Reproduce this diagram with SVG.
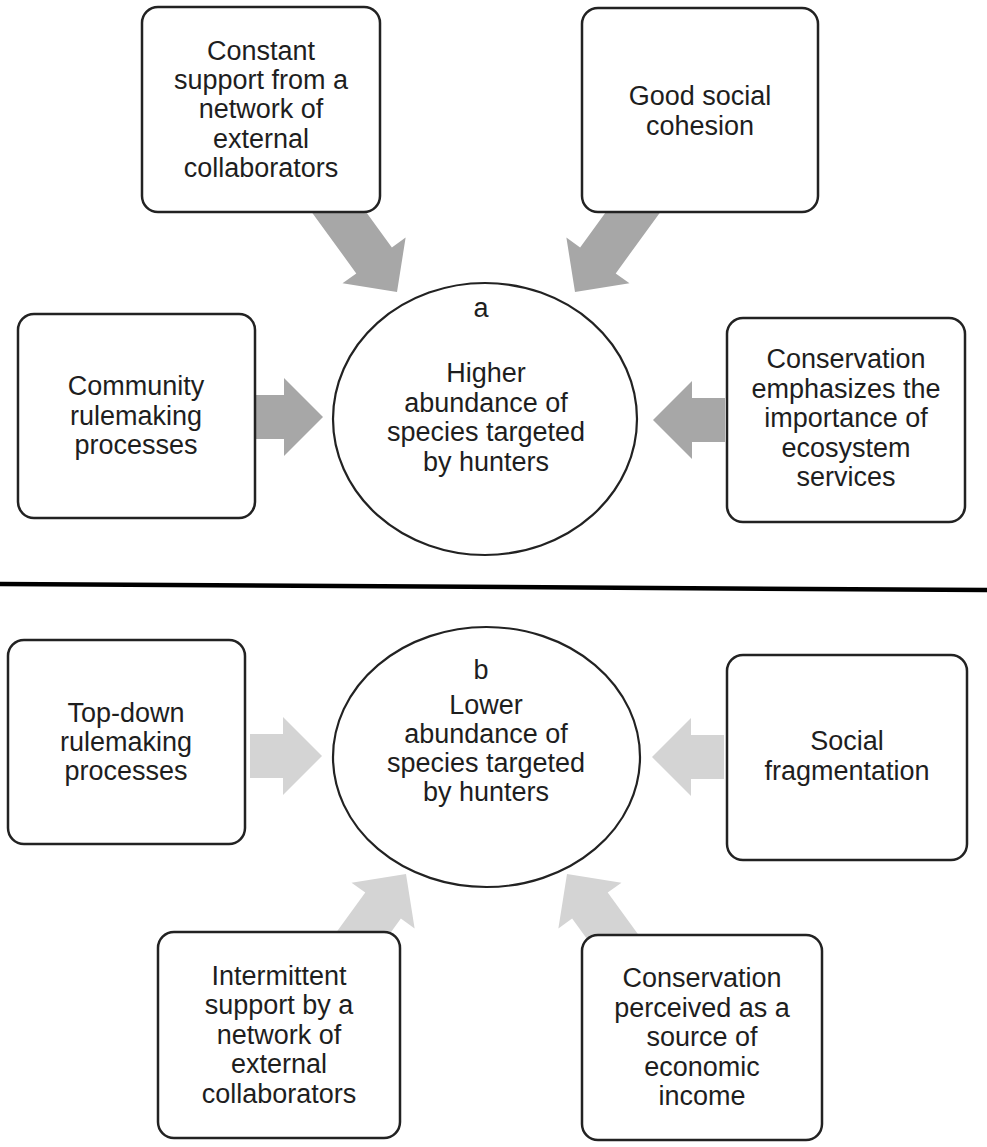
<svg xmlns="http://www.w3.org/2000/svg" width="987" height="1147" viewBox="0 0 987 1147">
<defs>
<style>
.box{fill:#fff;stroke:#222;stroke-width:2.5}
.ell{fill:#fff;stroke:#222;stroke-width:2.2}
.t{font-family:"Liberation Sans",Arial,sans-serif;font-size:27px;fill:#1e1e1e;text-anchor:middle}
.a1{fill:#a7a7a7}
.a2{fill:#d4d4d4}
</style>
<polygon id="arr" points="0,0 -39,-39 -39,-22 -115,-22 -115,22 -39,22 -39,39"/>
<polygon id="arrS" points="0,0 -39,-39 -39,-22 -72,-22 -72,22 -39,22 -39,39"/>
</defs>
<rect width="987" height="1147" fill="#fff"/>
<g id="connectors">
<use href="#arr" class="a1" transform="translate(397,292) rotate(54)"/>
<use href="#arr" class="a1" transform="translate(575,292) rotate(126)"/>
<use href="#arrS" class="a1" transform="translate(323,417)"/>
<use href="#arrS" class="a1" transform="translate(653,420) rotate(180)"/>
<use href="#arrS" class="a2" transform="translate(322,756)"/>
<use href="#arrS" class="a2" transform="translate(652,757) rotate(180)"/>
<use href="#arr" class="a2" transform="translate(406,874) rotate(-54)"/>
<use href="#arr" class="a2" transform="translate(567,874) rotate(-126)"/>
</g>
<line x1="0" y1="584" x2="987" y2="590" stroke="#000" stroke-width="4.5"/>
<g id="circle-a">
<ellipse class="ell" cx="485" cy="419" rx="152" ry="136"/>
<text class="t" x="481" y="317">a</text>
<text class="t" x="486" y="382">Higher</text>
<text class="t" x="486" y="412">abundance of</text>
<text class="t" x="486" y="441">species targeted</text>
<text class="t" x="486" y="471">by hunters</text>
</g>
<g id="box-constant">
<rect class="box" x="142" y="7" width="238" height="205" rx="16"/>
<text class="t" x="261" y="60">Constant</text>
<text class="t" x="261" y="89">support from a</text>
<text class="t" x="261" y="118">network of</text>
<text class="t" x="261" y="148">external</text>
<text class="t" x="261" y="177">collaborators</text>
</g>
<g id="box-cohesion">
<rect class="box" x="582" y="8" width="236" height="204" rx="16"/>
<text class="t" x="700" y="105">Good social</text>
<text class="t" x="700" y="135">cohesion</text>
</g>
<g id="box-community">
<rect class="box" x="18" y="314" width="237" height="204" rx="16"/>
<text class="t" x="136" y="395">Community</text>
<text class="t" x="136" y="425">rulemaking</text>
<text class="t" x="136" y="454">processes</text>
</g>
<g id="box-ecosystem">
<rect class="box" x="727" y="318" width="238" height="204" rx="16"/>
<text class="t" x="846" y="368">Conservation</text>
<text class="t" x="846" y="398">emphasizes the</text>
<text class="t" x="846" y="427">importance of</text>
<text class="t" x="846" y="457">ecosystem</text>
<text class="t" x="846" y="486">services</text>
</g>
<g id="circle-b">
<ellipse class="ell" cx="486.5" cy="757" rx="153.5" ry="130"/>
<text class="t" x="481" y="679">b</text>
<text class="t" x="486" y="714">Lower</text>
<text class="t" x="486" y="743">abundance of</text>
<text class="t" x="486" y="772">species targeted</text>
<text class="t" x="486" y="801">by hunters</text>
</g>
<g id="box-topdown">
<rect class="box" x="8" y="640" width="237" height="204" rx="16"/>
<text class="t" x="126" y="722">Top-down</text>
<text class="t" x="126" y="751">rulemaking</text>
<text class="t" x="126" y="780">processes</text>
</g>
<g id="box-fragmentation">
<rect class="box" x="727" y="655" width="240" height="205" rx="16"/>
<text class="t" x="847" y="750">Social</text>
<text class="t" x="847" y="780">fragmentation</text>
</g>
<g id="box-intermittent">
<rect class="box" x="158" y="932" width="242" height="206" rx="16"/>
<text class="t" x="279" y="985">Intermittent</text>
<text class="t" x="279" y="1014">support by a</text>
<text class="t" x="279" y="1044">network of</text>
<text class="t" x="279" y="1073">external</text>
<text class="t" x="279" y="1103">collaborators</text>
</g>
<g id="box-income">
<rect class="box" x="582" y="935" width="240" height="205" rx="16"/>
<text class="t" x="702" y="987">Conservation</text>
<text class="t" x="702" y="1017">perceived as a</text>
<text class="t" x="702" y="1046">source of</text>
<text class="t" x="702" y="1076">economic</text>
<text class="t" x="702" y="1105">income</text>
</g>
</svg>
